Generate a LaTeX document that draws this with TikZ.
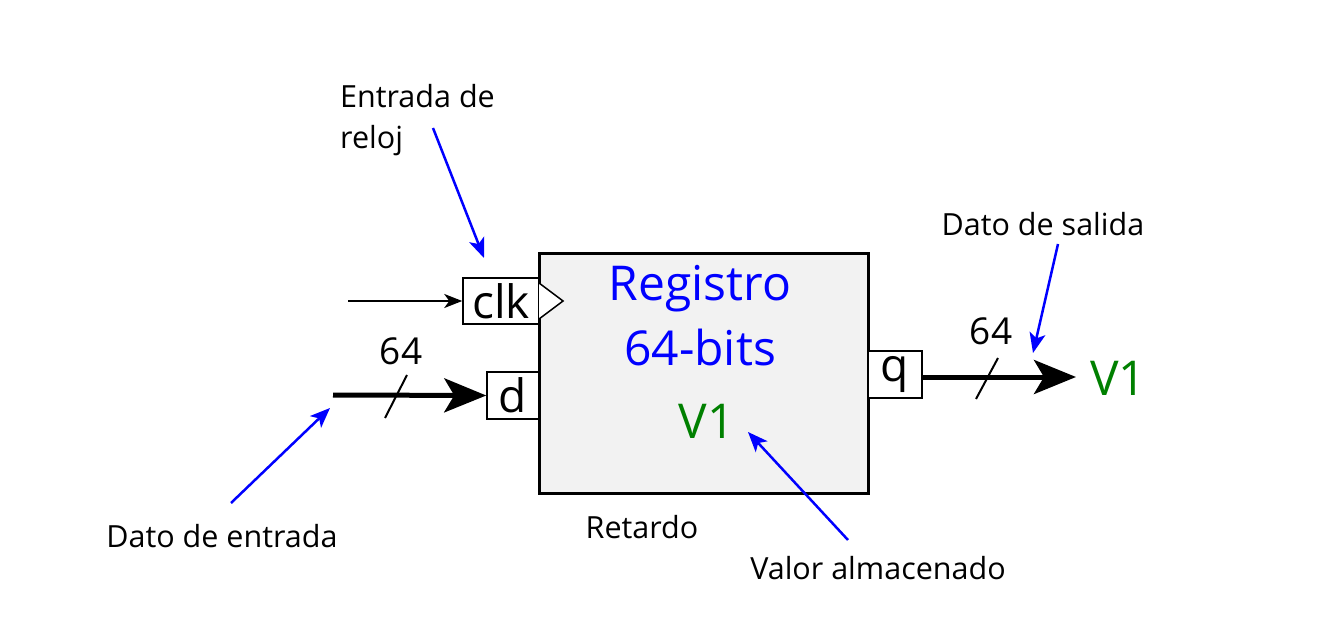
\documentclass[tikz,border=0pt]{standalone}
\usepackage{fontspec}
\setmainfont{Open Sans}
\usetikzlibrary{arrows.meta, positioning}
\definecolor{myblue}{rgb}{0,0,1}
\definecolor{mygreen}{rgb}{0,0.5,0}
\definecolor{mygray}{rgb}{0.95,0.95,0.95}
\newcommand{\LblSize}{\fontsize{30.5}{41}\selectfont}
\newcommand{\PinSize}{\fontsize{46}{50}\selectfont}
\newcommand{\BigSize}{\fontsize{48}{58}\selectfont}
\newcommand{\NumSize}{\fontsize{37}{40}\selectfont}
\tikzset{
  regbox/.style={draw, line width=3pt, fill=mygray, minimum width=329pt, minimum height=239pt, inner sep=0pt},
  pinbox/.style={draw, line width=1.5pt, fill=white, inner sep=0pt, font=\PinSize},
  bus/.style={line width=5pt, -{Stealth[length=42pt,width=34pt,inset=10pt]}},
  wire/.style={line width=2pt, -{Stealth[length=18pt,width=14pt,inset=5pt]}},
  pointer/.style={myblue, line width=2.5pt, -{Stealth[length=20pt,width=16pt,inset=5pt]}},
  lbl/.style={font=\LblSize, inner sep=0pt}
}
\begin{document}
\begin{tikzpicture}[x=1pt, y=-1pt]
  \useasboundingbox (0,0) rectangle (1334,631);
  % register and pins
  \node[regbox] (reg) at (703.5,373.5) {};
  \node[pinbox, minimum width=76pt, minimum height=46pt] (clk) at (501,301) {clk};
  \node[pinbox, minimum width=52pt, minimum height=47pt] (d) at (513,395.5) {d};
  \node[pinbox, minimum width=54pt, minimum height=47pt] (q) at (895,374.5) {q};
  \draw[line width=1.5pt, fill=white] (539,283) -- (563,301) -- (539,319);
  \node[myblue, font=\BigSize, inner sep=0pt] (name) at (700,289) {Registro};
  \node[myblue, font=\BigSize, inner sep=0pt] (bits) at (700,347) {64-bits};
  \node[mygreen, font=\BigSize, inner sep=0pt] (val) at (707,421) {V1};
  % wires
  \coordinate (clkin) at (348,301);
  \coordinate (din) at (333,395);
  \coordinate (qout) at (1076,377);
  \draw[wire] (clkin) -- (clk.west);
  \draw[bus] (din) -- (d.west);
  \draw[bus] (q.east |- qout) -- (qout);
  \draw[line width=2pt] (385,418) -- (407,375);
  \draw[line width=2pt] (976,399) -- (998,358);
  \node[font=\NumSize, inner sep=0pt] (din64) at (401,351) {64};
  \node[font=\NumSize, inner sep=0pt] (qout64) at (991,331) {64};
  \node[mygreen, font=\BigSize, inner sep=0pt] (outval) at (1118,378) {V1};
  % labels
  \node[lbl, align=left, anchor=north west] (clklbl) at (340,84) {Entrada de\\reloj};
  \node[lbl] (dlbl) at (222,536) {Dato de entrada};
  \node[lbl] (qlbl) at (1043,224) {Dato de salida};
  \node[lbl] (dly) at (642,527) {Retardo};
  \node[lbl] (vallbl) at (878,568) {Valor almacenado};
  \coordinate (clkptr) at (433,128);
  \coordinate (dptr) at (231,503);
  \coordinate (valptr) at (848,540);
  \coordinate (qptr) at (1058,244);
  \draw[pointer] (clkptr) -- (484,258);
  \draw[pointer] (dptr) -- (330,408);
  \draw[pointer] (valptr) -- (748,432);
  \draw[pointer] (qptr) -- (1033,353);
\end{tikzpicture}
\end{document}
